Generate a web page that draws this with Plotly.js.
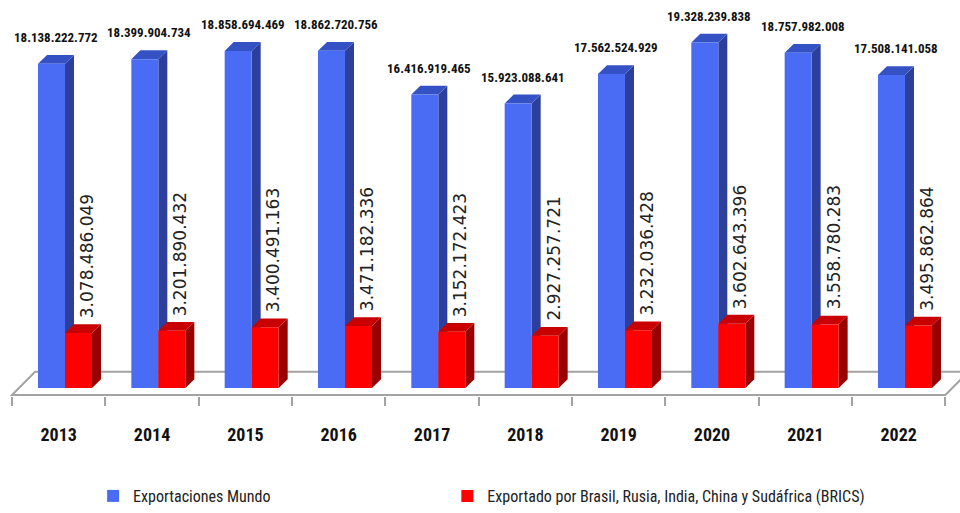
<!DOCTYPE html>
<html><head><meta charset="utf-8">
<script src="https://cdn.plot.ly/plotly-3.0.1.min.js"></script>
<style>html,body{margin:0;padding:0;background:#fff}#chart{width:960px;height:513px}</style>
</head><body><div id="chart"></div>
<script>
const years = ['2013','2014','2015','2016','2017','2018','2019','2020','2021','2022'];
const mundo = [18138222772, 18399904734, 18858694469, 18862720756, 16416919465, 15923088641, 17562524929, 19328239838, 18757982008, 17508141058];
const brics = [3078486049, 3201890432, 3400491163, 3471182336, 3152172423, 2927257721, 3232036428, 3602643396, 3558780283, 3495862864];
const seriesNames = ['Exportaciones Mundo', 'Exportado por Brasil, Rusia, India, China y Sudáfrica (BRICS)'];

// pseudo-3D geometry (in axis units)
const PX_CAT = 93.33, PX_BN = 18.15;
const B = 6.3 / PX_CAT;      // offset of bar pair joint from category centre
const W = 27 / PX_CAT;       // bar width
const DX = 9 / PX_CAT;       // depth, horizontal
const DY = 9 / PX_BN * 1e9;  // depth, vertical
const yTop = 394 / PX_BN * 1e9, yBot = -8 / PX_BN * 1e9;
const yFront = -7 / PX_BN * 1e9, yBack = 16.5 / PX_BN * 1e9;

const fmt = n => String(n).replace(/\B(?=(\d{3})+(?!\d))/g, '.');
const poly = pts => 'M' + pts.map(p => p[0] + ',' + p[1]).join(' L') + ' Z';

const NARROW = 'Roboto Condensed, Liberation Sans Narrow, Arial Narrow, Roboto, sans-serif';
const colors = {
  blue: {front: '#4a6cf4', side: '#2c3f9c', top: '#3552c4'},
  red:  {front: '#ff0000', side: '#990000', top: '#c80000'}
};

const shapes = [{
  type: 'path', xref: 'x', yref: 'y', layer: 'below',
  path: poly([[-0.5, yFront], [-0.5 + 23 / PX_CAT, yBack], [9.5 + 23 / PX_CAT, yBack], [9.5, yFront]]),
  line: {color: '#a3a3a3', width: 2}, fillcolor: '#ffffff'
}];
function addBox(xl, xr, v, c) {
  shapes.push({type: 'path', xref: 'x', yref: 'y', layer: 'below', line: {width: 0}, fillcolor: c.side,
    path: poly([[xr, 0], [xr + DX, DY], [xr + DX, v + DY], [xr, v]])});
  shapes.push({type: 'path', xref: 'x', yref: 'y', layer: 'below', line: {width: 0}, fillcolor: c.top,
    path: poly([[xl, v], [xl + DX, v + DY], [xr + DX, v + DY], [xr, v]])});
}
const annotations = [];
years.forEach((y, i) => {
  const j = i + B;
  addBox(j - W, j, mundo[i], colors.blue);
  addBox(j, j + W, brics[i], colors.red);
  annotations.push({x: j - DX, y: mundo[i] + DY, xref: 'x', yref: 'y', text: fmt(mundo[i]),
    showarrow: false, xanchor: 'center', yanchor: 'bottom', yshift: 8,
    font: {family: NARROW, size: 13, weight: 'bold', color: '#111'}});
  annotations.push({x: j + 22 / PX_CAT, y: brics[i] + DY, xref: 'x', yref: 'y', text: fmt(brics[i]),
    showarrow: false, textangle: -90, xanchor: 'center', yanchor: 'bottom', yshift: 4,
    font: {family: 'DejaVu Sans, sans-serif', size: 17, color: '#222'}});
});

const traces = [
  {type: 'bar', name: seriesNames[0], x: years, y: mundo, offset: B - W, width: W, legend: 'legend',
   marker: {color: colors.blue.front, line: {width: 0}}, hoverinfo: 'skip'},
  {type: 'bar', name: seriesNames[1], x: years, y: brics, offset: B, width: W, legend: 'legend2',
   marker: {color: colors.red.front, line: {width: 0}}, hoverinfo: 'skip'}
];

const legendFont = {family: NARROW, size: 16, color: '#222'};
const layout = {
  width: 960, height: 513,
  margin: {l: 0, r: 0, t: 0, b: 111, pad: 0},
  paper_bgcolor: '#ffffff', plot_bgcolor: '#ffffff',
  barmode: 'overlay',
  showlegend: true,
  legend: {orientation: 'h', x: 0.097, xanchor: 'left', y: -0.21, yanchor: 'top', font: legendFont},
  legend2: {orientation: 'h', x: 0.466, xanchor: 'left', y: -0.21, yanchor: 'top', font: legendFont},
  xaxis: {type: 'category', range: [-0.629, 9.657], fixedrange: true,
    tickson: 'boundaries', ticks: 'outside', ticklen: 9, tickwidth: 2, tickcolor: '#a3a3a3',
    showline: false, showgrid: false, zeroline: false, ticklabelstandoff: 26,
    tickfont: {family: NARROW, size: 18, weight: 'bold', color: '#111'}},
  yaxis: {range: [yBot, yTop], showgrid: false, zeroline: false, showticklabels: false, showline: false, ticks: '', fixedrange: true},
  shapes: shapes,
  annotations: annotations
};

Plotly.newPlot('chart', traces, layout, {displayModeBar: false, staticPlot: true});
</script>
</body></html>
